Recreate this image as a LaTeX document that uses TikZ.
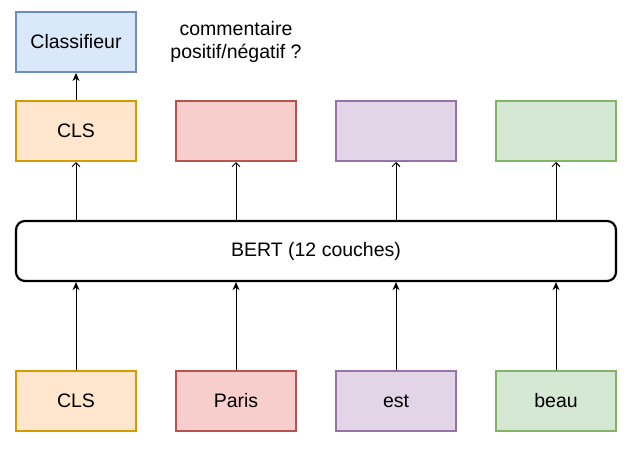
\documentclass[tikz,border=0pt]{standalone}
\usepackage{fontspec}
\setmainfont{Liberation Sans}
\usetikzlibrary{arrows.meta}
\definecolor{bluef}{HTML}{DAE8FC}\definecolor{blued}{HTML}{6C8EBF}
\definecolor{orangef}{HTML}{FFE6CC}\definecolor{oranged}{HTML}{D79B00}
\definecolor{redf}{HTML}{F8CECC}\definecolor{redd}{HTML}{B85450}
\definecolor{purplef}{HTML}{E1D5E7}\definecolor{purpled}{HTML}{9673A6}
\definecolor{greenf}{HTML}{D5E8D4}\definecolor{greend}{HTML}{82B366}
\begin{document}
\begin{tikzpicture}[x=1pt,y=-1pt,
  every node/.style={font=\fontsize{19.5}{23}\selectfont},
  tok/.style={minimum width=120pt,minimum height=60pt,inner sep=0pt,line width=2pt},
  bluebox/.style={tok,draw=blued,fill=bluef},
  orangebox/.style={tok,draw=oranged,fill=orangef},
  redbox/.style={tok,draw=redd,fill=redf},
  purplebox/.style={tok,draw=purpled,fill=purplef},
  greenbox/.style={tok,draw=greend,fill=greenf},
  bertbox/.style={draw=black,line width=2.2pt,rounded corners=9pt,minimum width=600pt,minimum height=60pt,inner sep=0pt},
  filledarrow/.style={line width=0.9pt,-{Stealth[length=8pt,width=7pt,inset=2.5pt]}},
  openarrow/.style={line width=0.9pt,-{Straight Barb[length=4pt,width=8pt]}}
]
\useasboundingbox (0,0) rectangle (628,448);
\node[bluebox] (clf) at (76,42) {Classifieur};
\node[align=center] (q) at (236,42) {commentaire\\positif/négatif ?};
\node[orangebox] (o1) at (76,131) {CLS};
\node[redbox] (o2) at (236,131) {};
\node[purplebox] (o3) at (396,131) {};
\node[greenbox] (o4) at (556,131) {};
\node[bertbox] (bert) at (316,251) {BERT (12 couches)};
\node[orangebox] (i1) at (76,401) {CLS};
\node[redbox] (i2) at (236,401) {Paris};
\node[purplebox] (i3) at (396,401) {est};
\node[greenbox] (i4) at (556,401) {beau};
\draw[filledarrow] (o1.north) -- (clf.south);
\foreach \i/\x in {1/76,2/236,3/396,4/556}{
  \draw[openarrow] (bert.north -| o\i.south) -- (o\i.south);
  \draw[filledarrow] (i\i.north) -- (bert.south -| i\i.north);
}
\end{tikzpicture}
\end{document}
